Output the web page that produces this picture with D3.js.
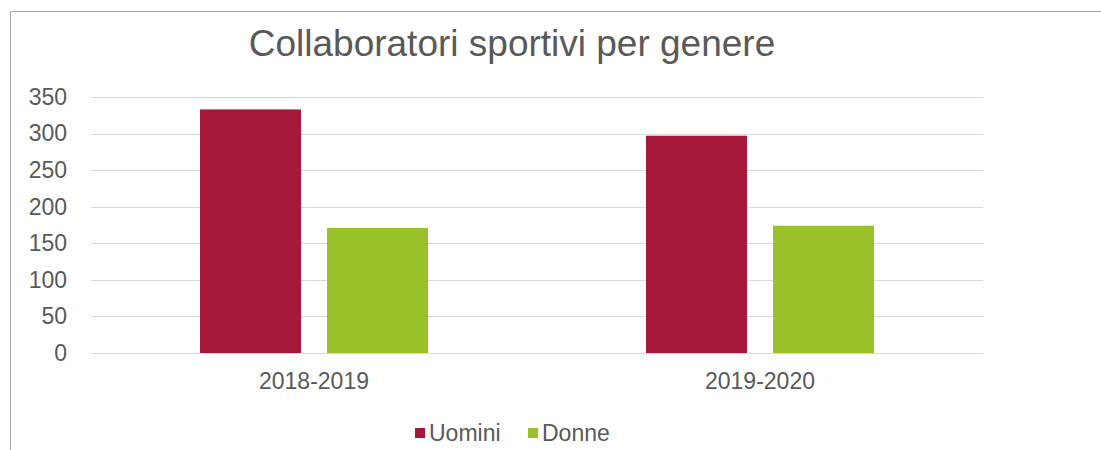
<!DOCTYPE html>
<html>
<head>
<meta charset="utf-8">
<script src="https://cdn.jsdelivr.net/npm/d3@7"></script>
<style>
  body { margin: 0; background: #fff; }
  svg { display: block; font-family: "Liberation Sans", Arial, sans-serif; }
</style>
</head>
<body>
<svg width="1101" height="450"></svg>
<script>
// chart data
const categories = ['2018-2019', '2019-2020'];
const seriesNames = ['Uomini', 'Donne'];
const uomini = [333, 297];
const donne = [171, 174];
const yTicks = [0, 50, 100, 150, 200, 250, 300, 350];
const colors = ['#a6183a', '#9ac12a'];

const svg = d3.select('svg');

// outer frame (only top and left edges visible)
svg.append('line').attr('x1', 10.5).attr('y1', 11.5).attr('x2', 1101).attr('y2', 11.5)
    .attr('stroke', '#a6a6a6').attr('stroke-width', 1);
svg.append('line').attr('x1', 10.5).attr('y1', 11.5).attr('x2', 10.5).attr('y2', 450)
    .attr('stroke', '#a6a6a6').attr('stroke-width', 1);

// title
svg.append('text')
    .attr('x', 512).attr('y', 56)
    .attr('text-anchor', 'middle')
    .attr('font-size', 37)
    .attr('fill', '#595959')
    .text('Collaboratori sportivi per genere');

const plotLeft = 91, plotRight = 983, plotTop = 97, plotBottom = 353;

const x0 = d3.scaleBand().domain(categories).range([plotLeft, plotRight]);
const x1 = d3.scaleBand().domain(seriesNames).range([0, 228]).paddingInner(0.205);
const y = d3.scaleLinear().domain([0, 350]).range([plotBottom, plotTop]);

// gridlines
svg.append('g').selectAll('line').data(yTicks).join('line')
    .attr('x1', plotLeft).attr('x2', plotRight)
    .attr('y1', d => Math.round(y(d)) + 0.5).attr('y2', d => Math.round(y(d)) + 0.5)
    .attr('stroke', '#d9d9d9').attr('stroke-width', 1);

// y axis labels
const yAxis = svg.append('g')
    .attr('transform', `translate(67,0)`)
    .call(d3.axisLeft(y).tickValues(yTicks).tickSize(0).tickPadding(0));
yAxis.select('.domain').remove();
yAxis.selectAll('text').attr('font-size', 23).attr('fill', '#595959')
    .attr('font-family', '"Liberation Sans", Arial, sans-serif');

// bars
const rows = categories.map((c, i) => ({ cat: c, vals: [uomini[i], donne[i]] }));
const groups = svg.append('g').selectAll('g').data(rows).join('g')
    .attr('transform', d => `translate(${x0(d.cat) + x0.bandwidth() / 2 - 114},0)`);
groups.selectAll('rect').data(d => d.vals.map((v, j) => ({ s: seriesNames[j], v, j })))
    .join('rect')
    .attr('x', d => x1(d.s))
    .attr('width', x1.bandwidth())
    .attr('y', d => y(d.v))
    .attr('height', d => y(0) - y(d.v))
    .attr('fill', d => colors[d.j]);

// x axis labels
const xAxis = svg.append('g')
    .attr('transform', `translate(0,${plotBottom + 20})`)
    .call(d3.axisBottom(x0).tickSize(0).tickPadding(0));
xAxis.select('.domain').remove();
xAxis.selectAll('text').attr('font-size', 23).attr('fill', '#595959')
    .attr('font-family', '"Liberation Sans", Arial, sans-serif');

// legend
const legendX = [415, 528];
const legend = svg.append('g').selectAll('g').data(seriesNames).join('g')
    .attr('transform', (d, i) => `translate(${legendX[i]},428)`);
legend.append('rect').attr('width', 10).attr('height', 10)
    .attr('fill', (d, i) => colors[i]);
legend.append('text').attr('x', 14).attr('y', 13)
    .attr('font-size', 23).attr('fill', '#595959').text(d => d);
</script>
</body>
</html>
